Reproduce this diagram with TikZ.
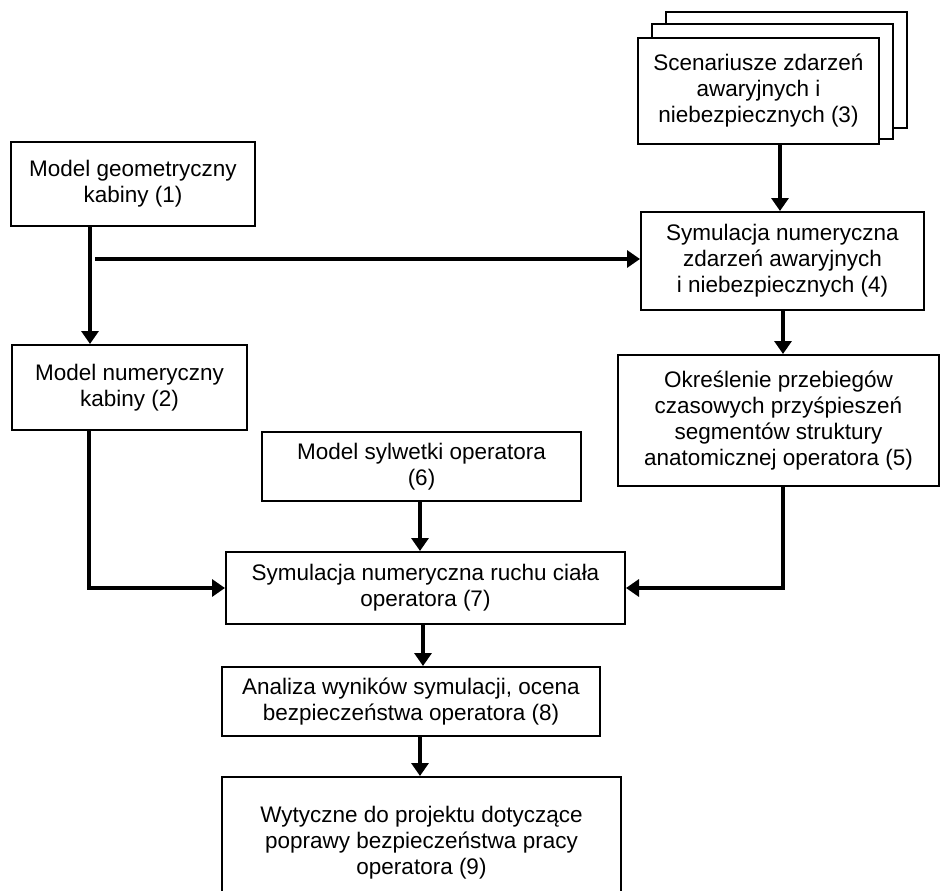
\documentclass[tikz,border=0pt]{standalone}
\usepackage{fontspec}
\setmainfont{Liberation Sans}
\usetikzlibrary{arrows.meta,calc}
\begin{document}
\begin{tikzpicture}[x=1pt,y=-1pt,
  box/.style={draw=black,line width=2pt,fill=white,rectangle,inner sep=0pt,
    align=center,font=\fontsize{22.5}{26}\selectfont},
  arr/.style={line width=3.2pt,-{Triangle[length=13pt,width=17pt]}},
  ln/.style={line width=3.2pt}]
\clip (0,0) rectangle (940,891);
\fill[white] (0,0) rectangle (940,891);
% stacked box 3
\node[box,minimum width=241pt,minimum height=116pt] (b3c) at (786.5,70) {};
\node[box,minimum width=241pt,minimum height=115pt] (b3b) at (772.5,81.5) {};
\node[box,minimum width=241pt,minimum height=106pt] (b3) at (758.5,91) {Scenariusze zdarzeń\\awaryjnych i\\niebezpiecznych (3)};
\node[box,minimum width=244pt,minimum height=84pt] (b1) at (133,184) {Model geometryczny\\kabiny (1)};
\node[box,minimum width=235pt,minimum height=85pt] (b2) at (129.5,387.5) {Model numeryczny\\kabiny (2)};
\node[box,minimum width=283pt,minimum height=98pt] (b4) at (782.5,261) {Symulacja numeryczna\\zdarzeń awaryjnych\\i niebezpiecznych (4)};
\node[box,minimum width=321pt,minimum height=131pt] (b5) at (778.5,420.5) {Określenie przebiegów\\czasowych przyśpieszeń\\segmentów struktury\\anatomicznej operatora (5)};
\node[box,minimum width=319pt,minimum height=69pt] (b6) at (421.5,466.5) {Model sylwetki operatora\\(6)};
\node[box,minimum width=399pt,minimum height=72pt] (b7) at (425.5,588) {Symulacja numeryczna ruchu ciała\\operatora (7)};
\node[box,minimum width=378pt,minimum height=69pt] (b8) at (411,701.5) {Analiza wyników symulacji, ocena\\bezpieczeństwa operatora (8)};
\node[box,minimum width=399pt,minimum height=132pt] (b9) at (421.5,843) {Wytyczne do projektu dotyczące\\poprawy bezpieczeństwa pracy\\operatora (9)};
% helper x positions
\coordinate (x34) at (780,0);
\coordinate (x12) at (90,0);
\coordinate (br) at (95,259);
\coordinate (x45) at (783,0);
\coordinate (x27) at (89,0);
\coordinate (x67) at (420,0);
\coordinate (x78) at (423,0);
\coordinate (x89) at (420,0);
% connectors
\draw[arr] (b3.south -| x34) -- (b4.north -| x34);
\draw[arr] (b1.south -| x12) -- (b2.north -| x12);
\draw[arr] (br) -- (br -| b4.west);
\draw[arr] (b4.south -| x45) -- (b5.north -| x45);
\draw[arr] (b2.south -| x27) |- (b7.west);
\draw[arr] (b5.south -| x45) |- (b7.east);
\draw[arr] (b6.south -| x67) -- (b7.north -| x67);
\draw[arr] (b7.south -| x78) -- (b8.north -| x78);
\draw[arr] (b8.south -| x89) -- (b9.north -| x89);
\end{tikzpicture}
\end{document}
